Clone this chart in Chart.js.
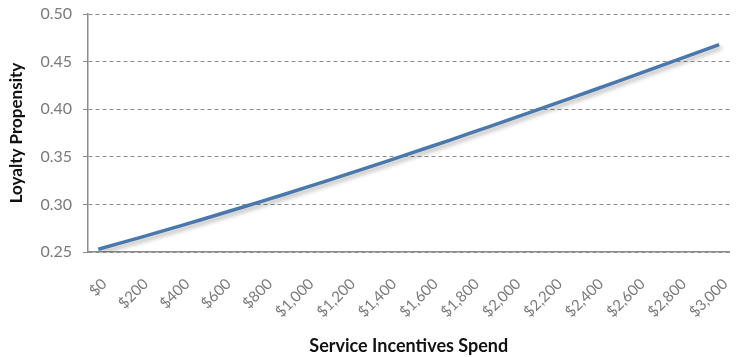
<!DOCTYPE html>
<html>
<head>
<meta charset="utf-8">
<script src="https://cdn.jsdelivr.net/npm/chart.js@4/dist/chart.umd.min.js"></script>
<style>
    html, body { margin: 0; padding: 0; background: #fff; }
    #wrap { width: 747px; height: 357px; }
</style>
</head>
<body>
<div id="wrap"><canvas id="loyaltyChart"></canvas></div>
<script>
// Spend steps ($100 apart), only every other one is labelled
const spend = [0, 100, 200, 300, 400, 500, 600, 700, 800, 900, 1000,
    1100, 1200, 1300, 1400, 1500, 1600, 1700, 1800, 1900, 2000,
    2100, 2200, 2300, 2400, 2500, 2600, 2700, 2800, 2900, 3000];

// Loyalty propensity
const propensity = [0.2529, 0.2590, 0.2651, 0.2714, 0.2777, 0.2841, 0.2907, 0.2973, 0.3039, 0.3107, 0.3176,
    0.3245, 0.3315, 0.3386, 0.3457, 0.3530, 0.3603, 0.3676, 0.3751, 0.3825, 0.3901,
    0.3977, 0.4053, 0.4130, 0.4207, 0.4285, 0.4363, 0.4441, 0.4520, 0.4599, 0.4678];

const yTicks = [0.25, 0.30, 0.35, 0.40, 0.45, 0.50];

const axisGray = '#8c8c8c';
const labelGray = '#7a7a7a';

// Soft drop shadow under the line, like the original
const lineShadow = {
    id: 'lineShadow',
    beforeDatasetDraw(chart) {
        const ctx = chart.ctx;
        ctx.save();
        ctx.shadowColor = 'rgba(0,0,0,0.28)';
        ctx.shadowBlur = 4;
        ctx.shadowOffsetX = 2;
        ctx.shadowOffsetY = 3;
    },
    afterDatasetDraw(chart) {
        chart.ctx.restore();
    }
};

const canvas = document.getElementById('loyaltyChart');
new Chart(canvas.getContext('2d'), {
    type: 'line',
    data: {
        labels: spend,
        datasets: [{
            data: propensity,
            borderColor: '#4a78ad',
            borderWidth: 3.5,
            pointRadius: 0,
            tension: 0,
            fill: false
        }]
    },
    plugins: [lineShadow],
    options: {
        responsive: true,
        maintainAspectRatio: false,
        animation: false,
        layout: { padding: { top: 14, right: 7, left: 0, bottom: 0 } },
        plugins: {
            legend: { display: false },
            tooltip: { enabled: false }
        },
        scales: {
            x: {
                type: 'category',
                offset: true,
                afterFit: (scale) => { scale.height = 105; },
                grid: { display: false },
                border: { display: true, color: axisGray, width: 1.5 },
                ticks: {
                    autoSkip: false,
                    maxRotation: 45,
                    minRotation: 45,
                    padding: 15,
                    labelOffset: 6,
                    color: labelGray,
                    font: { family: 'Lato', size: 15 },
                    callback: function(value, index) {
                        if (index % 2) return '';
                        return '$' + spend[index].toLocaleString('en-US');
                    }
                },
                title: {
                    display: true,
                    text: 'Service Incentives Spend',
                    color: '#111',
                    font: { family: 'Lato', size: 18, weight: 'bold' },
                    padding: { top: 0, bottom: 0 }
                }
            },
            y: {
                min: yTicks[0],
                max: yTicks[yTicks.length - 1],
                afterFit: (scale) => {
                    scale.width = 88;
                    scale.paddingTop = 0;
                },
                afterBuildTicks: (scale) => {
                    scale.ticks = yTicks.map(v => ({ value: v }));
                },
                grid: {
                    color: axisGray,
                    lineWidth: 1,
                    tickLength: 5,
                    tickBorderDash: [4, 3]
                },
                border: { display: true, color: axisGray, width: 1.5, dash: [4, 3] },
                ticks: {
                    padding: 11,
                    color: labelGray,
                    font: { family: 'Lato', size: 16 },
                    callback: (value) => value.toFixed(2)
                },
                title: {
                    display: true,
                    text: 'Loyalty Propensity',
                    color: '#111',
                    font: { family: 'Lato', size: 17, weight: 'bold' },
                    padding: { top: 6, bottom: 0 }
                }
            }
        }
    }
});
</script>
</body>
</html>
